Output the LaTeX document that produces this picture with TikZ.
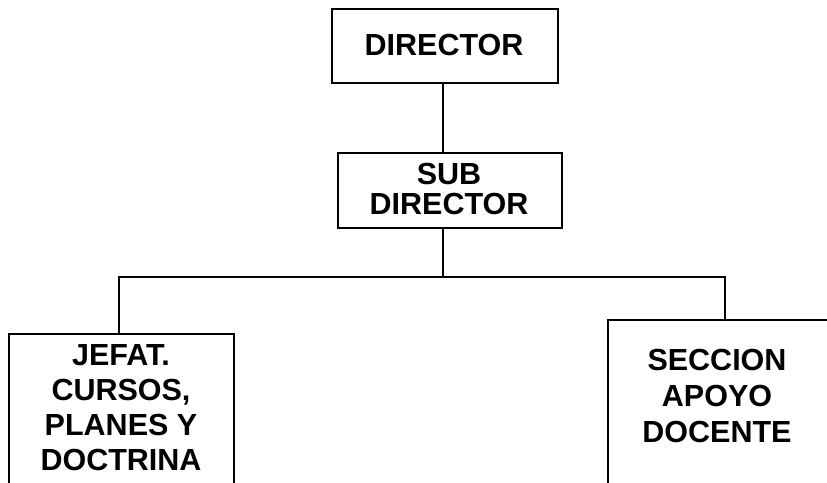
\documentclass[tikz,border=0pt]{standalone}
\usepackage{fontspec}
\setmainfont{Liberation Sans}
\begin{document}
\begin{tikzpicture}[x=1pt,y=-1pt,
  box/.style={draw,line width=2pt,inner sep=0pt,anchor=north west},
  lbl/.style={font=\bfseries\fontsize{30.5}{34}\selectfont,align=center,inner sep=0pt},
  wire/.style={line width=2pt}]
\useasboundingbox (0,0) rectangle (827,482);
\begin{scope}
\clip (0,0) rectangle (827,482);
\node[box,minimum width=226pt,minimum height=74pt] (dir) at (331,8) {};
\node[lbl] (dirt) at (444,45) {DIRECTOR};
\node[box,minimum width=224pt,minimum height=75pt] (sub) at (337,152) {};
\node[lbl,font=\bfseries\fontsize{30.5}{30}\selectfont] (subt) at (449,189) {SUB\\DIRECTOR};
\node[box,minimum width=225pt,minimum height=180pt] (jef) at (8,333) {};
\node[lbl,font=\bfseries\fontsize{30.5}{35}\selectfont] (jeft) at (121,408) {JEFAT.\\CURSOS,\\PLANES Y\\DOCTRINA};
\node[box,minimum width=260pt,minimum height=200pt] (sec) at (607,319) {};
\node[lbl,font=\bfseries\fontsize{30.5}{36}\selectfont] (sect) at (717,396) {SECCION\\APOYO\\DOCENTE};
\coordinate (bus) at (443,277);
\draw[wire] (dir.south -| bus) -- (sub.north -| bus);
\draw[wire] (sub.south -| bus) -- (bus);
\draw[wire] (bus) -| ([xshift=-2.5pt]jef.north);
\draw[wire] (bus) -| ([xshift=-13pt]sec.north);
\end{scope}
\end{tikzpicture}
\end{document}
